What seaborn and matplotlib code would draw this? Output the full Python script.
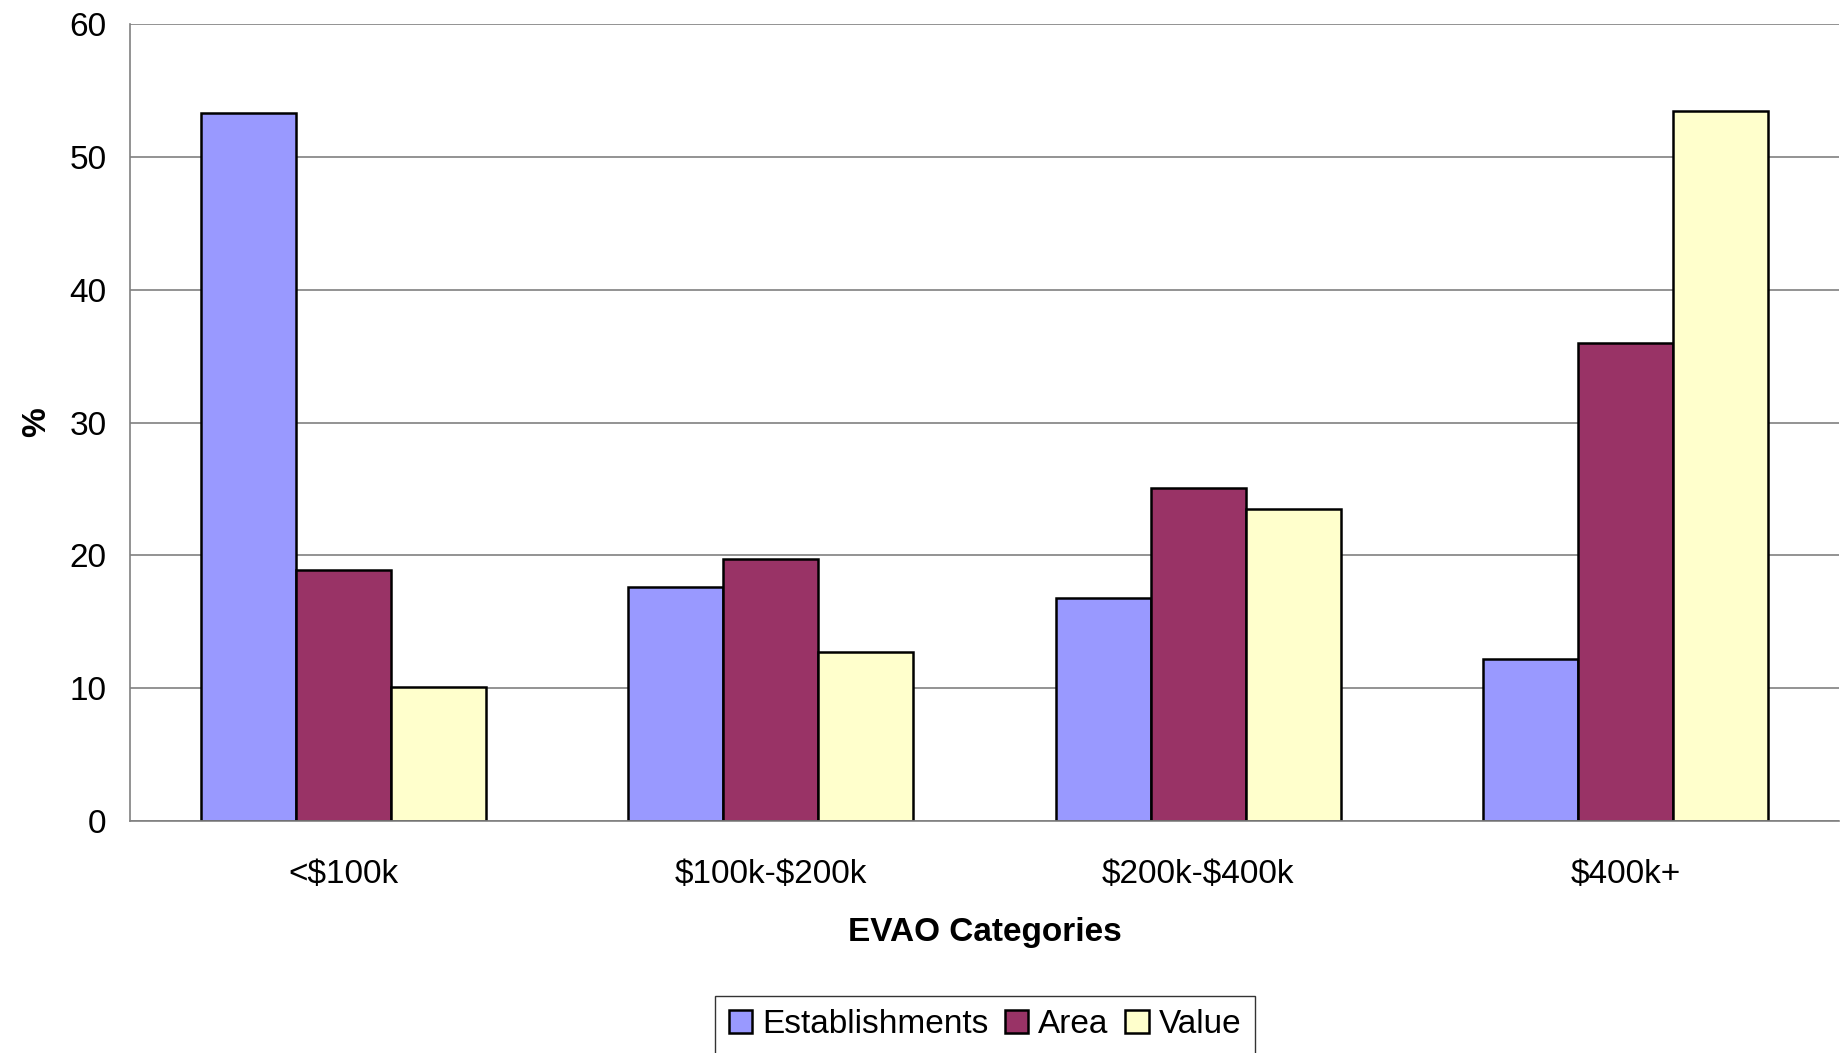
import numpy as np
import pandas as pd
import seaborn as sns
import matplotlib.pyplot as plt
from matplotlib.patches import Patch
from matplotlib.ticker import FixedLocator

# data
categories = ["<$100k", "$100k-$200k", "$200k-$400k", "$400k+"]
series = ["Establishments", "Area", "Value"]
establishments = [53.3, 17.6, 16.8, 12.2]
area = [18.9, 19.7, 25.1, 36.0]
value = [10.1, 12.7, 23.5, 53.5]
colors = ["#9999FF", "#993366", "#FFFFCC"]

df = pd.DataFrame({
    "category": categories * 3,
    "series": [s for s in series for _ in categories],
    "pct": establishments + area + value,
})

sns.set_style("white")
plt.rcParams["font.family"] = ["Liberation Sans", "DejaVu Sans"]
plt.rcParams["text.parse_math"] = False  # dollar signs in labels are literal
plt.rcParams["text.color"] = "black"
plt.rcParams["axes.labelcolor"] = "black"
plt.rcParams["xtick.labelcolor"] = "black"
plt.rcParams["ytick.labelcolor"] = "black"

fig = plt.figure(figsize=(18.41, 10.53), dpi=100)
ax = fig.add_axes([0.0706, 0.2203, 0.9284, 0.7567])

sns.barplot(data=df, x="category", y="pct", hue="series", order=categories,
            hue_order=series, palette=colors, width=2/3, gap=0,
            edgecolor="black", linewidth=1.8, saturation=1, legend=False, ax=ax)

ax.set_ylim(0, 60)
ax.set_xlim(-0.5, 3.5)
ax.set_yticks(np.arange(0, 61, 10))
ax.yaxis.grid(True, color="#808080", linewidth=1.2)
ax.set_axisbelow(True)

for s in ["top", "right"]:
    ax.spines[s].set_visible(False)
for s in ["left", "bottom"]:
    ax.spines[s].set_color("#808080")
    ax.spines[s].set_linewidth(1.2)

# category boundaries carry the tick marks, labels sit at the centres
ax.xaxis.set_minor_locator(FixedLocator(np.arange(-0.5, 3.6, 1.0)))
ax.tick_params(axis="x", which="major", length=0, pad=27, labelsize=24)
ax.tick_params(axis="x", which="minor", length=9, width=1.2, color="#808080", direction="out")
ax.tick_params(axis="y", length=9, width=1.2, color="#808080", direction="out",
               labelsize=24, pad=8)

ax.set_xlabel("EVAO Categories", fontsize=24, fontweight="bold", labelpad=20)
ax.set_ylabel("%", fontsize=24, fontweight="bold", labelpad=12)

handles = [Patch(facecolor=c, edgecolor="black", linewidth=1.8) for c in colors]
fig.legend(handles, series, loc="upper center", bbox_to_anchor=(0.535, 0.054),
           ncol=3, fontsize=24, frameon=True, fancybox=False, edgecolor="black",
           handlelength=0.7, handleheight=0.7, handletextpad=0.3,
           columnspacing=0.5, borderpad=0.4, borderaxespad=0)

fig.savefig("out.png", dpi=100)
